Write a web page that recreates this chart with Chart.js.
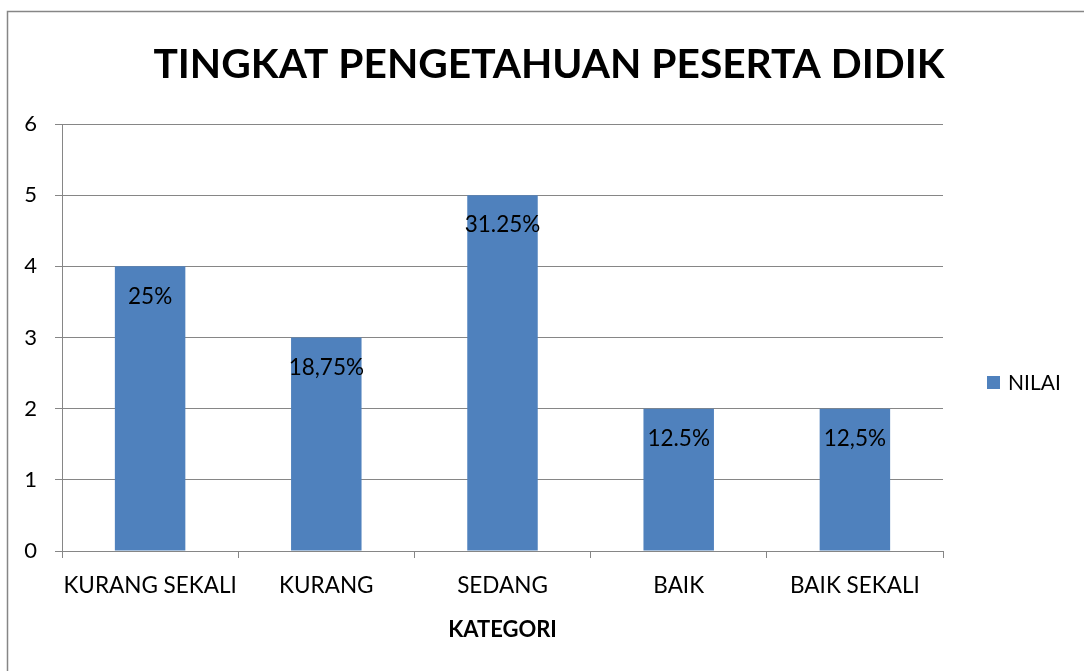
<!DOCTYPE html>
<html><head><meta charset="utf-8">
<script src="https://cdn.jsdelivr.net/npm/chart.js@4"></script>
<style>html,body{margin:0;padding:0;background:#fff}canvas{display:block}</style>
</head><body><canvas id="c" width="1084" height="671"></canvas>
<script>
const categories = ['KURANG SEKALI', 'KURANG', 'SEDANG', 'BAIK', 'BAIK SEKALI'];
const values = [4, 3, 5, 2, 2];
const percentLabels = ['25%', '18,75%', '31.25%', '12.5%', '12,5%'];
const seriesName = 'NILAI';
const chartTitle = 'TINGKAT PENGETAHUAN PESERTA DIDIK';
const xAxisTitle = 'KATEGORI';
const yMin = 0, yMax = 6, yStep = 1;

const FONT = 'Lato, "Open Sans", sans-serif';
const GRID = '#868686';
const BAR = '#4F81BD';

const decor = {
  id: 'decor',
  beforeDraw(chart) {
    const ctx = chart.ctx;
    ctx.save();
    ctx.fillStyle = '#fff';
    ctx.fillRect(0, 0, chart.width, chart.height);
    ctx.strokeStyle = GRID;
    ctx.lineWidth = 1.5;
    ctx.strokeRect(7.5, 11.5, 1200, 800);
    ctx.restore();
  },
  afterDraw(chart) {
    const ctx = chart.ctx;
    ctx.save();
    ctx.fillStyle = '#000';
    ctx.font = 'bold 40.7px ' + FONT;
    ctx.textAlign = 'center';
    ctx.textBaseline = 'middle';
    ctx.fillText(chartTitle, 549, 65);
    const ds = chart.data.datasets[0];
    ctx.fillStyle = ds.backgroundColor;
    ctx.fillRect(987, 376, 13, 13);
    ctx.fillStyle = '#000';
    ctx.font = '21px ' + FONT;
    ctx.textAlign = 'left';
    ctx.fillText(ds.label, 1008, 383);
    ctx.restore();
  },
  afterDatasetsDraw(chart) {
    const ctx = chart.ctx;
    const meta = chart.getDatasetMeta(0);
    ctx.save();
    ctx.fillStyle = '#000';
    ctx.font = '22.5px ' + FONT;
    ctx.textAlign = 'center';
    ctx.textBaseline = 'middle';
    meta.data.forEach((bar, i) => {
      ctx.fillText(percentLabels[i], bar.x, bar.y + 30);
    });
    ctx.restore();
  }
};

new Chart(document.getElementById('c'), {
  type: 'bar',
  data: {
    labels: categories,
    datasets: [{
      label: seriesName,
      data: values,
      backgroundColor: BAR,
      borderWidth: 0,
      categoryPercentage: 0.8,
      barPercentage: 0.5
    }]
  },
  options: {
    responsive: false,
    maintainAspectRatio: false,
    animation: false,
    layout: { padding: { top: 124, right: 141, bottom: 24, left: 0 } },
    plugins: { legend: { display: false }, title: { display: false }, tooltip: { enabled: false } },
    scales: {
      x: {
        afterFit(s) { s.height = 96; },
        grid: { display: true, drawOnChartArea: false, drawTicks: true, tickLength: 7, color: GRID, offset: true },
        border: { display: true, color: GRID, width: 1 },
        ticks: { color: '#000', font: { family: FONT, size: 22.5 }, padding: 14, maxRotation: 0, autoSkip: false },
        title: { display: true, text: xAxisTitle, color: '#000', font: { family: FONT, size: 22, weight: 'bold' } }
      },
      y: {
        min: yMin, max: yMax,
        afterFit(s) { s.width = 62; },
        grid: { color: GRID, tickLength: 7, drawTicks: true },
        border: { display: true, color: GRID, width: 1 },
        ticks: { stepSize: yStep, color: '#000', font: { family: FONT, size: 22 }, padding: 18 }
      }
    }
  },
  plugins: [decor]
});
</script>
</body></html>
